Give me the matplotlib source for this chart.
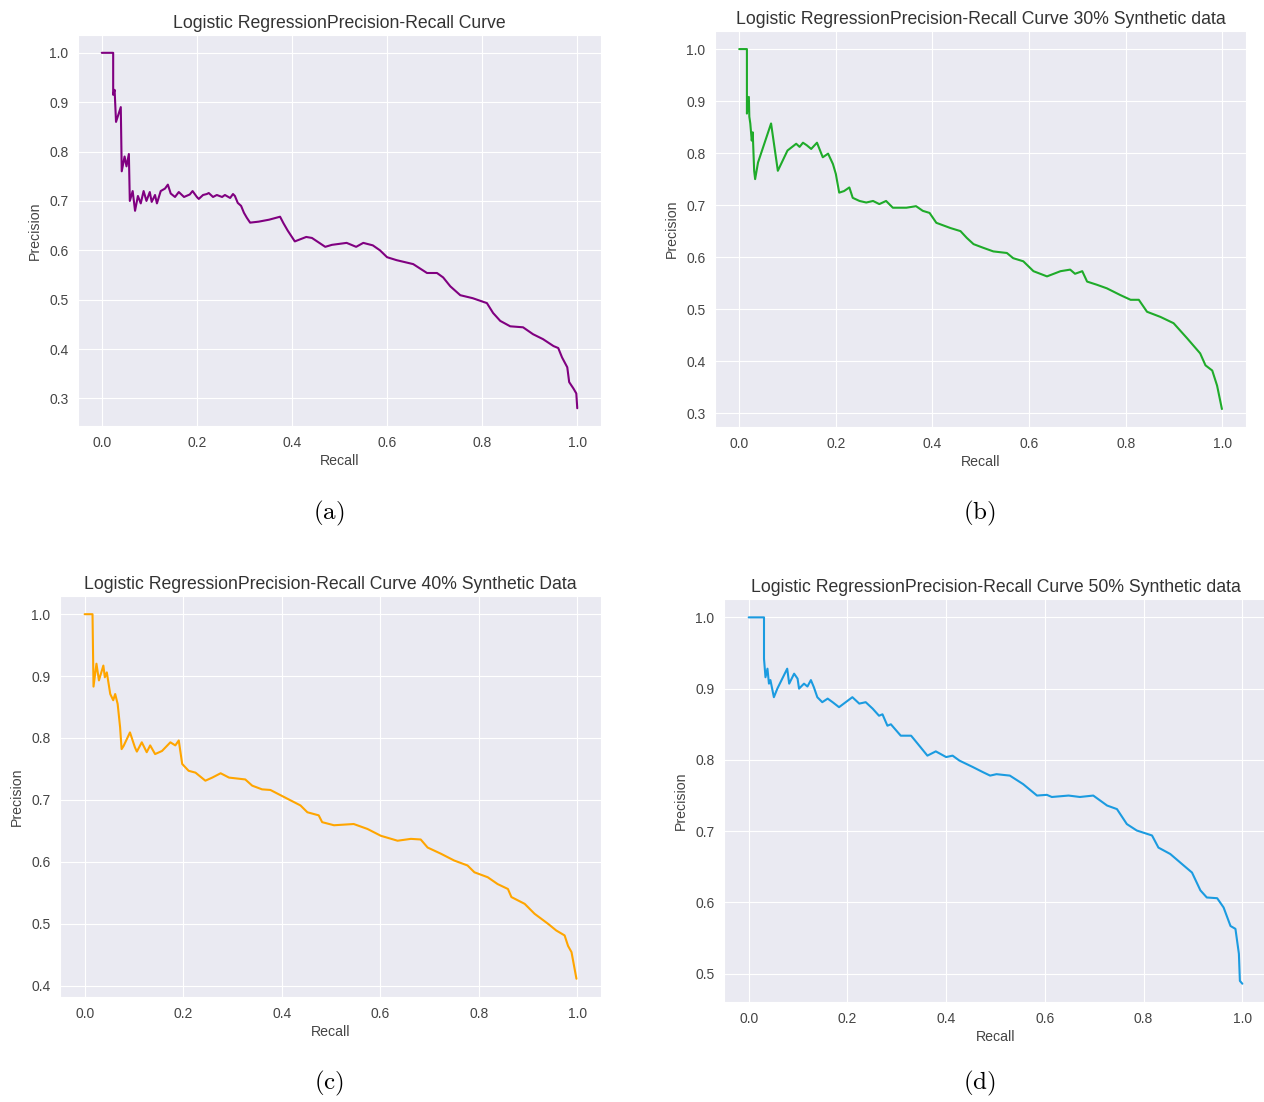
import numpy as np
import matplotlib
matplotlib.use("Agg")
import matplotlib.pyplot as plt
import seaborn as sns

sns.set_style("darkgrid")
plt.rcParams['font.family'] = ['Liberation Sans', 'DejaVu Sans']
plt.rcParams['mathtext.fontset'] = 'cm'

# precision-recall points, baseline model
recall_a = [0.0, 0.024, 0.024, 0.027, 0.030, 0.040, 0.042, 0.048, 0.052, 0.057, 0.059, 0.065,
            0.070, 0.076, 0.082, 0.088, 0.094, 0.101, 0.105, 0.112, 0.116, 0.124, 0.133, 0.139,
            0.145, 0.154, 0.162, 0.173, 0.185, 0.191, 0.200, 0.204, 0.213, 0.221, 0.225, 0.234,
            0.242, 0.253, 0.259, 0.270, 0.276, 0.280, 0.286, 0.293, 0.299, 0.305, 0.312, 0.330,
            0.352, 0.375, 0.382, 0.391, 0.406, 0.430, 0.442, 0.470, 0.484, 0.515, 0.535, 0.550,
            0.570, 0.585, 0.600, 0.620, 0.655, 0.684, 0.705, 0.718, 0.733, 0.754, 0.780, 0.810,
            0.823, 0.838, 0.859, 0.886, 0.907, 0.928, 0.950, 0.960, 0.968, 0.979, 0.983, 0.992,
            0.998, 1.0]
precision_a = [1.0, 1.0, 0.915, 0.925, 0.860, 0.890, 0.760, 0.790, 0.770, 0.795, 0.700, 0.720,
               0.680, 0.710, 0.695, 0.720, 0.700, 0.718, 0.698, 0.712, 0.695, 0.720, 0.725, 0.733,
               0.715, 0.708, 0.718, 0.708, 0.713, 0.720, 0.708, 0.704, 0.712, 0.714, 0.716, 0.708,
               0.712, 0.708, 0.712, 0.706, 0.714, 0.710, 0.696, 0.690, 0.676, 0.666, 0.656, 0.658,
               0.662, 0.668, 0.655, 0.640, 0.618, 0.627, 0.625, 0.607, 0.611, 0.615, 0.607, 0.615,
               0.610, 0.600, 0.586, 0.580, 0.572, 0.554, 0.554, 0.545, 0.527, 0.509, 0.503, 0.493,
               0.473, 0.457, 0.446, 0.444, 0.430, 0.420, 0.406, 0.402, 0.383, 0.363, 0.333, 0.320,
               0.310, 0.280]

# 30% synthetic data
recall_b = [0.0, 0.016, 0.016, 0.020, 0.021, 0.023, 0.026, 0.028, 0.031, 0.033, 0.039, 0.066,
            0.080, 0.100, 0.118, 0.125, 0.132, 0.140, 0.149, 0.161, 0.173, 0.184, 0.194, 0.200,
            0.207, 0.217, 0.228, 0.235, 0.249, 0.263, 0.277, 0.290, 0.304, 0.318, 0.346, 0.366,
            0.380, 0.394, 0.408, 0.437, 0.458, 0.471, 0.485, 0.505, 0.526, 0.554, 0.567, 0.588,
            0.609, 0.637, 0.665, 0.685, 0.695, 0.710, 0.720, 0.740, 0.761, 0.789, 0.810, 0.827,
            0.844, 0.872, 0.899, 0.927, 0.954, 0.965, 0.979, 0.989, 0.999]
precision_b = [1.0, 1.0, 0.876, 0.908, 0.870, 0.857, 0.824, 0.840, 0.766, 0.750, 0.782, 0.857,
               0.766, 0.805, 0.818, 0.812, 0.820, 0.815, 0.808, 0.820, 0.792, 0.799, 0.779, 0.760,
               0.724, 0.727, 0.734, 0.714, 0.708, 0.705, 0.708, 0.702, 0.708, 0.695, 0.695, 0.698,
               0.689, 0.685, 0.666, 0.656, 0.650, 0.637, 0.625, 0.618, 0.611, 0.608, 0.598, 0.592,
               0.573, 0.563, 0.573, 0.576, 0.568, 0.573, 0.553, 0.547, 0.540, 0.527, 0.518, 0.518,
               0.495, 0.485, 0.473, 0.444, 0.415, 0.392, 0.382, 0.353, 0.308]

# 40% synthetic data
recall_c = [0.0, 0.016, 0.018, 0.024, 0.029, 0.038, 0.041, 0.045, 0.052, 0.058, 0.062, 0.067,
            0.072, 0.075, 0.079, 0.092, 0.102, 0.106, 0.116, 0.126, 0.133, 0.143, 0.157, 0.174,
            0.184, 0.191, 0.198, 0.211, 0.225, 0.245, 0.259, 0.276, 0.293, 0.326, 0.340, 0.360,
            0.377, 0.394, 0.438, 0.452, 0.475, 0.482, 0.506, 0.546, 0.574, 0.601, 0.635, 0.662,
            0.682, 0.696, 0.723, 0.750, 0.777, 0.791, 0.818, 0.838, 0.859, 0.866, 0.893, 0.913,
            0.940, 0.957, 0.974, 0.981, 0.988, 0.998]
precision_c = [1.0, 1.0, 0.883, 0.920, 0.893, 0.917, 0.898, 0.906, 0.871, 0.861, 0.871, 0.855,
               0.817, 0.782, 0.787, 0.809, 0.785, 0.778, 0.793, 0.777, 0.788, 0.774, 0.779, 0.793,
               0.788, 0.796, 0.758, 0.747, 0.744, 0.731, 0.736, 0.743, 0.736, 0.733, 0.723, 0.717,
               0.716, 0.709, 0.691, 0.680, 0.675, 0.664, 0.659, 0.661, 0.653, 0.642, 0.634, 0.637,
               0.636, 0.623, 0.613, 0.602, 0.594, 0.583, 0.575, 0.564, 0.556, 0.543, 0.532, 0.516,
               0.500, 0.489, 0.481, 0.464, 0.454, 0.411]

# 50% synthetic data
recall_d = [0.0, 0.031, 0.031, 0.034, 0.038, 0.041, 0.044, 0.051, 0.058, 0.078, 0.082, 0.092,
            0.099, 0.102, 0.112, 0.119, 0.126, 0.132, 0.139, 0.149, 0.160, 0.170, 0.183, 0.210,
            0.224, 0.237, 0.251, 0.264, 0.271, 0.281, 0.288, 0.308, 0.329, 0.342, 0.362, 0.379,
            0.400, 0.413, 0.427, 0.454, 0.474, 0.489, 0.502, 0.529, 0.556, 0.584, 0.604, 0.614,
            0.648, 0.671, 0.698, 0.726, 0.746, 0.766, 0.786, 0.817, 0.830, 0.854, 0.881, 0.898,
            0.915, 0.928, 0.949, 0.962, 0.976, 0.986, 0.993, 0.995, 1.0]
precision_d = [1.0, 1.0, 0.942, 0.916, 0.928, 0.907, 0.912, 0.888, 0.900, 0.928, 0.907, 0.921,
               0.914, 0.900, 0.907, 0.903, 0.912, 0.902, 0.888, 0.881, 0.886, 0.881, 0.874, 0.888,
               0.879, 0.881, 0.872, 0.862, 0.864, 0.848, 0.850, 0.834, 0.834, 0.823, 0.806, 0.812,
               0.804, 0.806, 0.799, 0.790, 0.783, 0.778, 0.780, 0.778, 0.766, 0.750, 0.751, 0.748,
               0.750, 0.748, 0.750, 0.736, 0.731, 0.710, 0.701, 0.694, 0.677, 0.668, 0.652, 0.642,
               0.617, 0.607, 0.606, 0.593, 0.567, 0.563, 0.528, 0.490, 0.486]

panels = [
    (recall_a, precision_a, '#800080', 'Logistic RegressionPrecision-Recall Curve', '(a)',
     [0.0617, 0.6134, 0.4138, 0.3548], (0.2603, 0.5345)),
    (recall_b, precision_b, '#1fab2a', 'Logistic RegressionPrecision-Recall Curve 30% Synthetic data', '(b)',
     [0.5657, 0.6125, 0.4201, 0.3593], (0.7745, 0.5345)),
    (recall_c, precision_c, '#ffa500', 'Logistic RegressionPrecision-Recall Curve 40% Synthetic Data', '(c)',
     [0.0475, 0.0953, 0.4280, 0.3639], (0.2603, 0.0165)),
    (recall_d, precision_d, '#1b9be0', 'Logistic RegressionPrecision-Recall Curve 50% Synthetic data', '(d)',
     [0.5728, 0.0907, 0.4296, 0.3657], (0.7745, 0.0165)),
]

fig = plt.figure(figsize=(12.64, 11.02), dpi=100)
for rec, prec, col, title, tag, box, cap in panels:
    ax = fig.add_axes(box)
    ax.plot(rec, prec, color=col, lw=1.5)
    ax.set_title(title, fontsize=12.7, color='#333333', pad=5)
    ax.set_xlabel('Recall', fontsize=10.2, color='#444444', labelpad=3)
    ax.set_ylabel('Precision', fontsize=10.2, color='#444444', labelpad=5)
    ax.set_xticks(np.arange(0, 1.01, 0.2))
    ax.tick_params(labelsize=10, colors='#444444')
    # sub-figure caption below each panel
    fig.text(cap[0], cap[1], r'$\mathrm{' + tag + '}$', fontsize=18,
             ha='center', va='center', color='black')

fig.savefig('out.png', dpi=100)
